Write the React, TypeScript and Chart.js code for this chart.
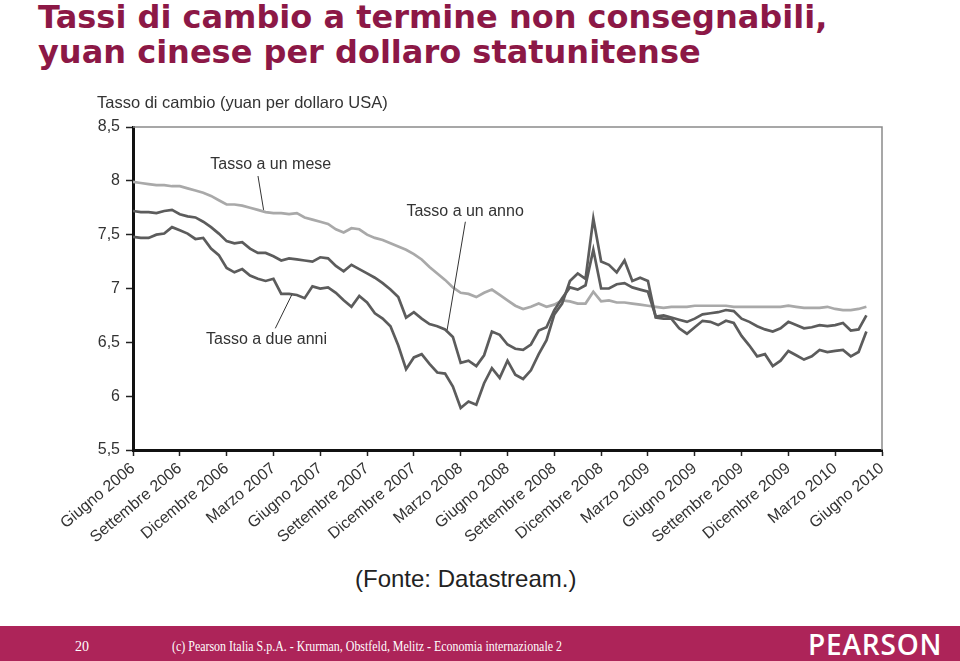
import React, { useEffect, useRef } from 'react';
import { Chart, registerables } from 'chart.js';

Chart.register(...registerables);

// Quarterly tick labels (x = quarters since June 2006)
const quarterLabels = [
  'Giugno 2006', 'Settembre 2006', 'Dicembre 2006', 'Marzo 2007',
  'Giugno 2007', 'Settembre 2007', 'Dicembre 2007', 'Marzo 2008',
  'Giugno 2008', 'Settembre 2008', 'Dicembre 2008', 'Marzo 2009',
  'Giugno 2009', 'Settembre 2009', 'Dicembre 2009', 'Marzo 2010', 'Giugno 2010',
];

const yTickValues = [5.5, 6, 6.5, 7, 7.5, 8, 8.5];
const yTickLabels = ['5,5', '6', '6,5', '7', '7,5', '8', '8,5'];

// half-month observations, expressed in quarters
const obsPerQuarter = 6;

const oneMonth = [
  7.99, 7.98, 7.97, 7.96, 7.96, 7.95, 7.95, 7.93, 7.91, 7.89,
  7.86, 7.82, 7.78, 7.78, 7.77, 7.75, 7.73, 7.71, 7.70, 7.70,
  7.69, 7.70, 7.66, 7.64, 7.62, 7.60, 7.55, 7.52, 7.56, 7.55,
  7.50, 7.47, 7.45, 7.42, 7.39, 7.36, 7.32, 7.27, 7.20, 7.14,
  7.08, 7.01, 6.96, 6.95, 6.92, 6.96, 6.99, 6.94, 6.89, 6.84,
  6.81, 6.83, 6.86, 6.83, 6.85, 6.89, 6.88, 6.86, 6.86, 6.97,
  6.88, 6.89, 6.87, 6.87, 6.86, 6.85, 6.84, 6.83, 6.82, 6.83,
  6.83, 6.83, 6.84, 6.84, 6.84, 6.84, 6.84, 6.83, 6.83, 6.83,
  6.83, 6.83, 6.83, 6.83, 6.84, 6.83, 6.82, 6.82, 6.82, 6.83,
  6.81, 6.80, 6.80, 6.81, 6.83,
];

const oneYear = [
  7.72, 7.71, 7.71, 7.70, 7.72, 7.73, 7.69, 7.67, 7.66, 7.62,
  7.57, 7.51, 7.44, 7.42, 7.43, 7.37, 7.33, 7.33, 7.30, 7.26,
  7.28, 7.27, 7.26, 7.25, 7.29, 7.28, 7.21, 7.16, 7.22, 7.18,
  7.14, 7.10, 7.05, 6.99, 6.92, 6.73, 6.78, 6.72, 6.67, 6.65,
  6.62, 6.55, 6.31, 6.33, 6.28, 6.38, 6.60, 6.57, 6.48, 6.44,
  6.43, 6.48, 6.61, 6.64, 6.80, 6.91, 7.01, 6.99, 7.03, 7.36,
  7.00, 7.00, 7.04, 7.05, 7.01, 6.99, 6.97, 6.74, 6.75, 6.73,
  6.71, 6.69, 6.72, 6.76, 6.77, 6.78, 6.80, 6.79, 6.72, 6.69,
  6.65, 6.62, 6.60, 6.63, 6.69, 6.66, 6.63, 6.64, 6.66, 6.65,
  6.66, 6.68, 6.61, 6.62, 6.75,
];

const twoYear = [
  7.48, 7.47, 7.47, 7.50, 7.51, 7.57, 7.54, 7.51, 7.46, 7.47,
  7.37, 7.31, 7.19, 7.15, 7.18, 7.12, 7.09, 7.07, 7.09, 6.95,
  6.95, 6.94, 6.91, 7.02, 7.00, 7.01, 6.96, 6.89, 6.83, 6.93,
  6.87, 6.77, 6.72, 6.65, 6.47, 6.25, 6.36, 6.39, 6.30, 6.22,
  6.21, 6.09, 5.89, 5.95, 5.92, 6.12, 6.26, 6.17, 6.33, 6.20,
  6.16, 6.24, 6.39, 6.52, 6.76, 6.86, 7.07, 7.14, 7.09, 7.65,
  7.25, 7.22, 7.15, 7.26, 7.07, 7.10, 7.07, 6.73, 6.72, 6.72,
  6.63, 6.58, 6.64, 6.70, 6.69, 6.66, 6.70, 6.68, 6.56, 6.47,
  6.37, 6.39, 6.28, 6.33, 6.42, 6.38, 6.34, 6.37, 6.43, 6.41,
  6.42, 6.43, 6.37, 6.41, 6.60,
];

// in-plot labels with pointer lines, in data coordinates [quarter, rate]
const seriesLabels = [
  { text: 'Tasso a un mese', at: [1.65, 8.147], from: [2.67, 8.045], to: [2.79, 7.73] },
  { text: 'Tasso a un anno', at: [5.84, 7.71], from: [7.1, 7.62], to: [6.71, 6.615] },
  { text: 'Tasso a due anni', at: [1.56, 6.53], from: [3.04, 6.63], to: [3.39, 6.94] },
];

const yAxisTitle = 'Tasso di cambio (yuan per dollaro USA)';

const toPoints = (arr: number[]) => arr.map((v, i) => ({ x: i / obsPerQuarter, y: v }));

const SANS = '"Liberation Sans", Arial, sans-serif';

const decorPlugin = {
  id: 'decor',
  beforeDatasetsDraw(chart: any) {
    const { ctx, chartArea } = chart;
    ctx.save();
    ctx.strokeStyle = '#8a8a8a';
    ctx.lineWidth = 1.5;
    ctx.beginPath();
    ctx.moveTo(chartArea.left, chartArea.top);
    ctx.lineTo(chartArea.right, chartArea.top);
    ctx.lineTo(chartArea.right, chartArea.bottom);
    ctx.stroke();
    ctx.restore();
  },
  afterDraw(chart: any) {
    const { ctx, chartArea, scales } = chart;
    const xs = scales.x;
    const ys = scales.y;
    ctx.save();
    ctx.fillStyle = '#333';
    ctx.font = '16.5px ' + SANS;
    ctx.textBaseline = 'middle';
    ctx.textAlign = 'left';
    ctx.fillText(yAxisTitle, chartArea.left - 36, chartArea.top - 24);

    ctx.font = '16px ' + SANS;
    ctx.strokeStyle = '#333';
    ctx.lineWidth = 1;
    for (const l of seriesLabels) {
      ctx.fillText(l.text, xs.getPixelForValue(l.at[0]), ys.getPixelForValue(l.at[1]));
      ctx.beginPath();
      ctx.moveTo(xs.getPixelForValue(l.from[0]), ys.getPixelForValue(l.from[1]));
      ctx.lineTo(xs.getPixelForValue(l.to[0]), ys.getPixelForValue(l.to[1]));
      ctx.stroke();
    }
    ctx.restore();
  },
};

function RateChart() {
  const ref = useRef<HTMLCanvasElement | null>(null);
  useEffect(() => {
    if (!ref.current) return;
    const dark = '#5c5c5c';
    const chart = new Chart(ref.current, {
      type: 'line',
      data: {
        datasets: [
          { label: 'Tasso a due anni', data: toPoints(twoYear), borderColor: dark, borderWidth: 2.7, pointRadius: 0, tension: 0 },
          { label: 'Tasso a un anno', data: toPoints(oneYear), borderColor: dark, borderWidth: 2.7, pointRadius: 0, tension: 0 },
          { label: 'Tasso a un mese', data: toPoints(oneMonth), borderColor: '#a9a9a9', borderWidth: 2.7, pointRadius: 0, tension: 0 },
        ],
      },
      options: {
        animation: false,
        responsive: false,
        maintainAspectRatio: false,
        layout: { padding: { top: 37, right: 18, bottom: 0, left: 0 } },
        plugins: { legend: { display: false }, tooltip: { enabled: false }, title: { display: false } },
        scales: {
          x: {
            type: 'linear',
            min: 0,
            max: quarterLabels.length - 1,
            border: { color: '#111', width: 3 },
            grid: { drawOnChartArea: false, drawTicks: true, tickLength: 6, tickColor: '#222', tickWidth: 1.5 },
            ticks: {
              stepSize: 1,
              autoSkip: false,
              maxRotation: 40,
              minRotation: 40,
              padding: 3,
              color: '#333',
              font: { family: SANS, size: 16 },
              callback: (v: any) => quarterLabels[Math.round(Number(v))] ?? '',
            },
            afterFit: (s: any) => { s.height = 110; },
          },
          y: {
            min: 5.5,
            max: 8.5,
            border: { color: '#111', width: 3 },
            grid: { drawOnChartArea: false, drawTicks: true, tickLength: 7, tickColor: '#222', tickWidth: 1.5 },
            ticks: {
              stepSize: 0.5,
              padding: 6,
              color: '#333',
              font: { family: SANS, size: 16 },
              callback: (v: any) => {
                const i = yTickValues.findIndex((t) => Math.abs(t - Number(v)) < 1e-6);
                return i >= 0 ? yTickLabels[i] : '';
              },
            },
            afterFit: (s: any) => { s.width = 133; },
          },
        },
      },
      plugins: [decorPlugin],
    });
    return () => chart.destroy();
  }, []);
  return <canvas ref={ref} width={900} height={470} style={{ position: 'absolute', left: 0, top: 90, width: 900, height: 470 }} />;
}

export default function App() {
  return (
    <div style={{ position: 'fixed', left: 0, top: 0, width: 960, height: 661, background: '#fff', overflow: 'hidden' }}>
      <div style={{ position: 'absolute', left: 38, top: 0, font: 'bold 32px "DejaVu Sans", Verdana, sans-serif', lineHeight: '35px', color: '#8c1846', whiteSpace: 'nowrap' }}>
        Tassi di cambio a termine non consegnabili,<br />yuan cinese per dollaro statunitense
      </div>
      <RateChart />
      <div style={{ position: 'absolute', left: 355, top: 565, font: '24px "Liberation Sans", Arial, sans-serif', lineHeight: '28px', color: '#222', whiteSpace: 'nowrap' }}>
        (Fonte: Datastream.)
      </div>
      <div style={{ position: 'absolute', left: 0, top: 626, width: 960, height: 35, background: '#ad2459' }}>
        <div style={{ position: 'absolute', left: 75, top: 13, font: '14px "Liberation Serif", "Times New Roman", serif', color: '#fff', lineHeight: '16px' }}>20</div>
        <div style={{ position: 'absolute', left: 172, top: 13, font: '14px "Liberation Serif", "Times New Roman", serif', color: '#fff', lineHeight: '16px', whiteSpace: 'nowrap', transform: 'scaleX(0.853)', transformOrigin: 'left center' }}>
          (c) Pearson Italia S.p.A. - Krurman, Obstfeld, Melitz - Economia internazionale 2
        </div>
        <div style={{ position: 'absolute', left: 808, top: 1, font: '600 28px "Open Sans", sans-serif', color: '#fff', lineHeight: '34px', letterSpacing: 0.8 }}>PEARSON</div>
      </div>
    </div>
  );
}
